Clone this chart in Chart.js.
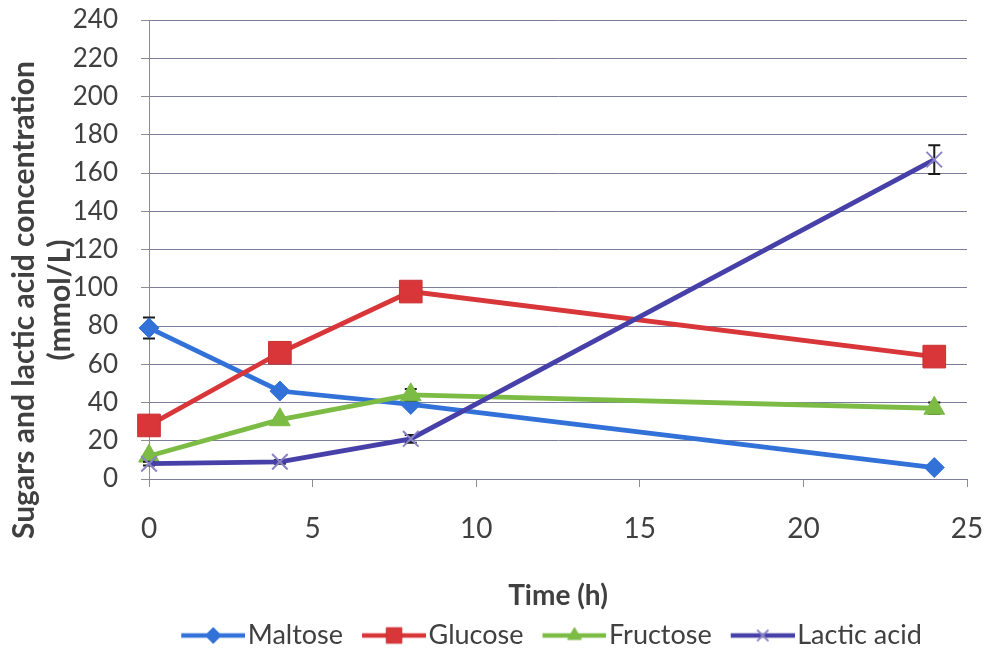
<!DOCTYPE html>
<html>
<head>
<meta charset="utf-8">
<script src="https://cdn.jsdelivr.net/npm/chart.js@4.4.1/dist/chart.umd.min.js"></script>
<style>
  html, body { margin: 0; padding: 0; background: #ffffff; }
  #wrap { width: 987px; height: 653px; }
</style>
</head>
<body>
<div id="wrap"><canvas id="chart" width="987" height="653"></canvas></div>
<script>
// Sampling times (h)
const timeHours = [0, 4, 8, 24];

// Concentrations (mmol/L)
const maltose    = [79, 46, 39, 6];
const glucose    = [28, 66, 98, 64];
const fructose   = [12, 31, 44, 37];
const lacticAcid = [8, 9, 21, 167];

// Standard deviations (mmol/L)
const maltoseErr    = [5.5, 1, 1, 1];
const glucoseErr    = [1, 1, 1, 1];
const fructoseErr   = [1, 1, 3, 3];
const lacticAcidErr = [1, 1, 2, 7.5];

const seriesNames = ['Maltose', 'Glucose', 'Fructose', 'Lactic acid'];
const xTickValues = [0, 5, 10, 15, 20, 25];
const yTickValues = [0, 20, 40, 60, 80, 100, 120, 140, 160, 180, 200, 220, 240];
const xTitle = 'Time (h)';
const yTitleLines = ['Sugars and lactic acid concentration', '(mmol/L)'];

const TEXT = '#404040';
const FONT = 'Lato, "Open Sans", "DejaVu Sans", sans-serif';
const LEGEND_SIZE = 27;

const styles = [
  { line: '#3272d8', fill: '#3272d8', marker: 'rectRot',  radius: 10, border: '#3272d8', bw: 1 },
  { line: '#d9363a', fill: '#d9363a', marker: 'rect',     radius: 16, border: '#c83033', bw: 1 },
  { line: '#7cbc45', fill: '#7cbc45', marker: 'triangle', radius: 12, border: '#7cbc45', bw: 1 },
  { line: '#4640a8', fill: 'rgba(0,0,0,0)', marker: 'crossRot', radius: 11, border: '#8a84c4', bw: 2 }
];

const pairs = (ys) => ys.map((v, i) => ({ x: timeHours[i], y: v }));
const values = [maltose, glucose, fructose, lacticAcid];
const errors = [maltoseErr, glucoseErr, fructoseErr, lacticAcidErr];

// Legend symbol: a line segment with the series marker in the middle
function legendGlyph(st) {
  const c = document.createElement('canvas');
  c.width = 86; c.height = 30;
  const g = c.getContext('2d');
  g.strokeStyle = st.line;
  g.lineWidth = 4.5;
  g.beginPath(); g.moveTo(22, 15); g.lineTo(86, 15); g.stroke();
  g.fillStyle = st.fill;
  g.strokeStyle = st.border;
  g.lineWidth = st.bw;
  const r = st.marker === 'rect' ? 11 : 8;
  Chart.helpers.drawPoint(g, { pointStyle: st.marker, radius: r, borderWidth: st.bw, rotation: 0 }, 54, 15);
  return c;
}

// Vertical error bars, drawn beneath each series' own line and markers
const errorBars = {
  id: 'errorBars',
  beforeDatasetDraw(chart, args) {
    const ds = chart.data.datasets[args.index];
    if (!ds.errors) return;
    const { ctx, scales: { x, y } } = chart;
    ctx.save();
    ctx.strokeStyle = '#1a1a1a';
    ctx.lineWidth = 2;
    ds.data.forEach((p, j) => {
      const e = ds.errors[j];
      const px = x.getPixelForValue(p.x);
      const top = y.getPixelForValue(p.y + e);
      const bot = y.getPixelForValue(p.y - e);
      ctx.beginPath();
      ctx.moveTo(px, top); ctx.lineTo(px, bot);
      ctx.moveTo(px - 6, top); ctx.lineTo(px + 6, top);
      ctx.moveTo(px - 6, bot); ctx.lineTo(px + 6, bot);
      ctx.stroke();
    });
    ctx.restore();
  }
};

// Nudge the legend row a little to the left of the plot centre
const legendShift = {
  id: 'legendShift',
  afterLayout(chart) {
    if (chart.legend) { chart.legend.left -= 12; chart.legend.right -= 12; }
  }
};

// Two-line rotated title for the value axis
const yAxisTitle = {
  id: 'yAxisTitle',
  afterDraw(chart) {
    const { ctx } = chart;
    ctx.save();
    ctx.fillStyle = TEXT;
    ctx.font = 'bold 30px ' + FONT;
    ctx.textAlign = 'center';
    ctx.textBaseline = 'alphabetic';
    const baselines = [34, 70];
    yTitleLines.forEach((t, i) => {
      ctx.save();
      ctx.translate(baselines[i], 300);
      ctx.rotate(-Math.PI / 2);
      ctx.fillText(t, 0, 0);
      ctx.restore();
    });
    ctx.restore();
  }
};

const datasets = seriesNames.map((name, i) => ({
  label: name,
  data: pairs(values[i]),
  errors: errors[i],
  borderColor: styles[i].line,
  borderWidth: 4.8,
  backgroundColor: styles[i].fill,
  pointStyle: styles[i].marker,
  pointRadius: styles[i].radius,
  pointBackgroundColor: styles[i].fill,
  pointBorderColor: styles[i].border,
  pointBorderWidth: styles[i].bw,
  tension: 0,
  fill: false,
  clip: false,
  order: 4 - i
}));

new Chart(document.getElementById('chart'), {
  type: 'line',
  data: { datasets },
  plugins: [errorBars, legendShift, yAxisTitle],
  options: {
    responsive: false,
    animation: false,
    events: [],
    layout: { padding: { left: 0, right: 20, top: 20, bottom: -6 } },
    plugins: {
      tooltip: { enabled: false },
      legend: {
        position: 'bottom',
        fullSize: false,
        labels: {
          usePointStyle: true,
          pointStyleWidth: 64,
          padding: 8,
          color: TEXT,
          font: { family: FONT, size: LEGEND_SIZE },
          generateLabels: (chart) => chart.data.datasets.map((ds, i) => ({
            text: ds.label,
            pointStyle: legendGlyph(styles[i]),
            fillStyle: 'rgba(0,0,0,0)',
            strokeStyle: 'rgba(0,0,0,0)',
            lineWidth: 0,
            fontColor: TEXT,
            hidden: false,
            datasetIndex: i
          }))
        }
      }
    },
    scales: {
      x: {
        type: 'linear',
        min: 0,
        max: 25,
        afterBuildTicks: (s) => { s.ticks = xTickValues.map(v => ({ value: v })); },
        ticks: {
          color: TEXT,
          font: { family: FONT, size: 28 },
          padding: 25,
          maxRotation: 0
        },
        grid: {
          drawOnChartArea: false,
          drawTicks: true,
          tickLength: 8,
          tickColor: '#8c8c8c'
        },
        border: { color: '#7c7c9c', width: 1 },
        title: {
          display: true,
          text: xTitle,
          color: TEXT,
          font: { family: FONT, size: 28, weight: 'bold' },
          padding: { top: 0, bottom: 1 }
        },
        afterFit: (s) => { s.height = 135; s.paddingLeft = 0; s.paddingRight = 0; }
      },
      y: {
        type: 'linear',
        min: 0,
        max: 240,
        afterBuildTicks: (s) => { s.ticks = yTickValues.map(v => ({ value: v })); },
        ticks: {
          color: TEXT,
          font: { family: FONT, size: 26 },
          padding: 23
        },
        grid: {
          color: '#7c7c9c',
          lineWidth: 1,
          drawTicks: true,
          tickLength: 8,
          tickColor: '#8c8c8c'
        },
        border: { color: '#8c8c8c', width: 1 },
        afterFit: (s) => { s.width = 149; s.paddingTop = 0; s.paddingBottom = 0; }
      }
    }
  }
});
</script>
</body>
</html>
